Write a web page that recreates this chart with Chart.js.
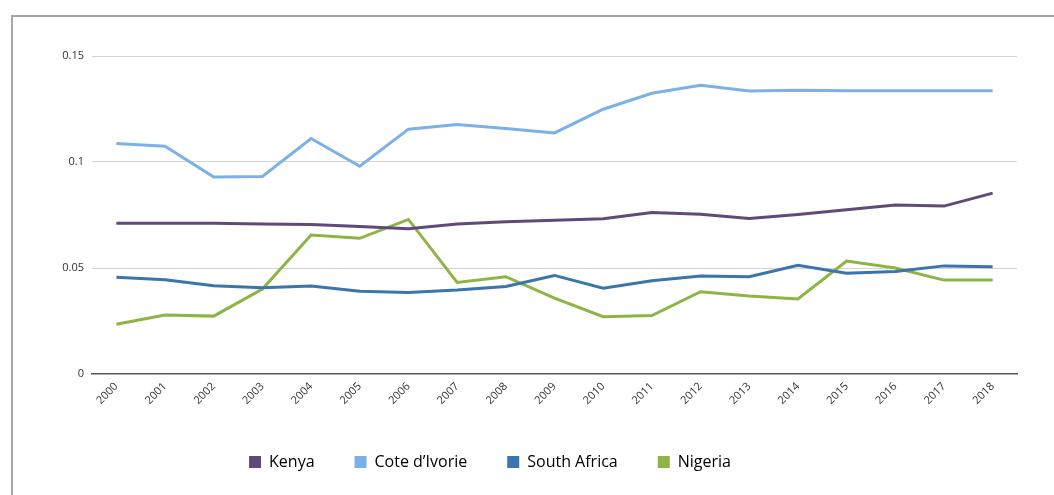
<!DOCTYPE html>
<html>
<head>
<meta charset="utf-8">
<script src="https://cdn.jsdelivr.net/npm/chart.js@4.4.1/dist/chart.umd.min.js"></script>
<style>
  html, body { margin: 0; padding: 0; background: #fff; }
  body { width: 1054px; height: 495px; position: relative; overflow: hidden; }
  #frame {
    position: absolute; left: 11px; top: 15px; right: 0; bottom: 0;
    border-top: 2px solid #a6a6a6; border-left: 2px solid #a6a6a6;
  }
  #wrap { position: absolute; left: 0; top: 0; width: 1041px; height: 478px; }
</style>
</head>
<body>
<div id="frame">
  <div id="wrap"><canvas id="chart"></canvas></div>
</div>
<script>
const YEARS = ['2000', '2001', '2002', '2003', '2004', '2005', '2006', '2007', '2008', '2009',
  '2010', '2011', '2012', '2013', '2014', '2015', '2016', '2017', '2018'];

const KENYA = [0.0711, 0.0711, 0.0711, 0.0708, 0.0705, 0.0696, 0.0685, 0.0707, 0.0718, 0.0725,
  0.0732, 0.0762, 0.0754, 0.0734, 0.0752, 0.0775, 0.0797, 0.0792, 0.0853];
const COTE_DIVOIRE = [0.1087, 0.1074, 0.0929, 0.0932, 0.1111, 0.0980, 0.1155, 0.1177, 0.1158, 0.1137,
  0.1249, 0.1324, 0.1362, 0.1335, 0.1339, 0.1336, 0.1336, 0.1336, 0.1336];
const SOUTH_AFRICA = [0.0456, 0.0445, 0.0416, 0.0407, 0.0415, 0.0390, 0.0385, 0.0396, 0.0413, 0.0465,
  0.0405, 0.0440, 0.0462, 0.0459, 0.0513, 0.0475, 0.0484, 0.0510, 0.0506];
const NIGERIA = [0.0235, 0.0278, 0.0273, 0.0401, 0.0656, 0.0640, 0.0729, 0.0432, 0.0459, 0.0358,
  0.0270, 0.0276, 0.0388, 0.0368, 0.0354, 0.0533, 0.0500, 0.0443, 0.0443];

const Y_TICKS = [0, 0.05, 0.1, 0.15];

const FONT = "'Open Sans', 'Noto Sans', sans-serif";

function series(label, data, color) {
  return {
    label,
    data,
    borderColor: color,
    backgroundColor: color,
    borderWidth: 3,
    pointRadius: 0,
    pointHoverRadius: 0,
    tension: 0,
    fill: false
  };
}

// the legend in the original sits a bit left of the canvas centre
const legendShift = {
  id: 'legendShift',
  afterLayout(chart) {
    const lg = chart.legend;
    if (lg) { lg.left -= 25; lg.right -= 25; }
  }
};

new Chart(document.getElementById('chart'), {
  type: 'line',
  data: {
    labels: YEARS,
    datasets: [
      series('Kenya', KENYA, '#604a7b'),
      series('Cote d’Ivorie', COTE_DIVOIRE, '#7cb1e8'),
      series('South Africa', SOUTH_AFRICA, '#3a75ad'),
      series('Nigeria', NIGERIA, '#8db444')
    ]
  },
  plugins: [legendShift],
  options: {
    responsive: true,
    maintainAspectRatio: false,
    animation: false,
    layout: { padding: { top: 39, right: 37, bottom: 15, left: 0 } },
    scales: {
      x: {
        offset: true,
        grid: { display: false, drawTicks: false },
        border: { display: true, color: '#595959', width: 1.5 },
        ticks: {
          minRotation: 45,
          maxRotation: 45,
          padding: 6,
          color: '#333',
          font: { family: FONT, size: 11 }
        },
        afterFit(scale) { scale.height = 40; }
      },
      y: {
        min: 0,
        max: 0.15,
        afterBuildTicks(scale) { scale.ticks = Y_TICKS.map(v => ({ value: v })); },
        grid: {
          drawTicks: false,
          color: ctx => ctx.tick && ctx.tick.value === 0 ? 'rgba(0,0,0,0)' : '#d4d4d4',
          lineWidth: 1
        },
        border: { display: false },
        ticks: {
          padding: 8,
          color: '#333',
          font: { family: FONT, size: 11 },
          callback: v => String(+v.toFixed(2))
        },
        afterFit(scale) { scale.width = 79; }
      }
    },
    plugins: {
      tooltip: { enabled: false },
      legend: {
        position: 'bottom',
        labels: {
          boxWidth: 12,
          boxHeight: 12,
          padding: 40,
          color: '#1a1a1a',
          font: { family: FONT, size: 16 },
          generateLabels(chart) {
            return chart.data.datasets.map((d, i) => ({
              text: d.label,
              fillStyle: d.borderColor,
              strokeStyle: d.borderColor,
              lineWidth: 0,
              datasetIndex: i
            }));
          }
        }
      }
    }
  }
});
</script>
</body>
</html>
